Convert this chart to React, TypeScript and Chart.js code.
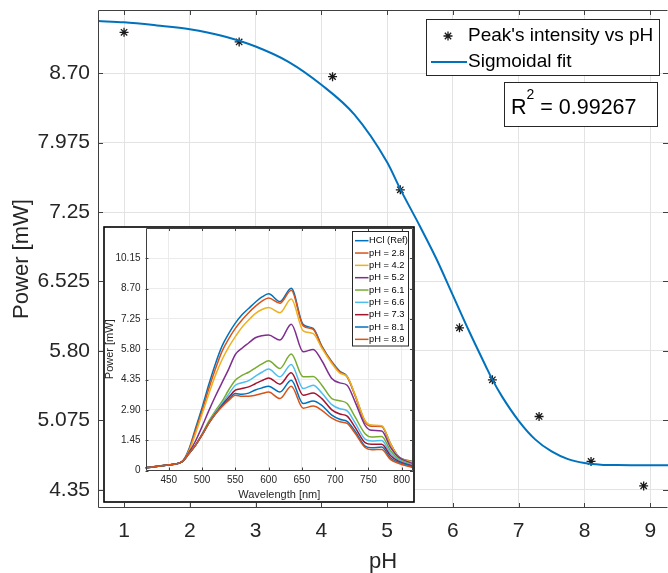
import React, { useEffect, useRef } from "react";
import { Chart, registerables } from "chart.js";
Chart.register(...registerables);

const FONT = "'Liberation Sans', Arial, Helvetica, sans-serif";

// ---- main chart data ----
const peakPH = [1, 2.75, 4.17, 5.2, 6.1, 6.6, 7.31, 8.1, 8.9];
const peakPower = [9.128, 9.027, 8.665, 7.483, 6.041, 5.498, 5.115, 4.645, 4.39];
const fitPH = [0.6, 1, 1.5, 2, 2.5, 3, 3.5, 4, 4.5, 5, 5.2, 5.5, 5.75, 6, 6.25, 6.5, 6.6, 6.75, 7, 7.25, 7.5, 7.75, 8, 8.25, 8.5, 9, 9.3];
const fitPower = [9.246, 9.233, 9.2, 9.16, 9.09, 8.98, 8.82, 8.58, 8.27, 7.77, 7.49, 7.1, 6.76, 6.38, 6.0, 5.64, 5.5, 5.32, 5.07, 4.876, 4.75, 4.67, 4.63, 4.612, 4.607, 4.605, 4.605];
const mainXTicks = [1, 2, 3, 4, 5, 6, 7, 8, 9];
const mainYTicks = [4.35, 5.075, 5.8, 6.525, 7.25, 7.975, 8.7];
const mainYTickLabels = ["4.35", "5.075", "5.80", "6.525", "7.25", "7.975", "8.70"];
const legendLabels = ["Peak's intensity vs pH", "Sigmoidal fit"];
const r2Value = "0.99267";

// ---- inset data ----
const wavelengths = [415, 450, 470, 480, 490, 500, 510, 520, 530, 540, 550, 560, 570, 580, 590, 600, 617, 634, 652, 667, 680, 695, 707, 718, 730, 745, 755, 770, 783, 795, 817];
const sHCl = [0.13, 0.27, 0.42, 1.0, 2.0, 3.0, 4.1, 5.1, 5.95, 6.55, 7.05, 7.45, 7.75, 8.05, 8.3, 8.45, 8.08, 8.72, 6.98, 6.8, 5.95, 5.2, 4.75, 4.5, 3.6, 2.35, 2.15, 2.12, 1.3, 0.68, 0.42];
const s28 = [0.13, 0.27, 0.42, 0.95, 1.9, 2.85, 3.9, 4.85, 5.7, 6.3, 6.8, 7.2, 7.55, 7.85, 8.1, 8.25, 8.0, 8.62, 6.92, 6.75, 5.92, 5.18, 4.72, 4.48, 3.58, 2.32, 2.12, 2.1, 1.28, 0.66, 0.4];
const s42 = [0.13, 0.27, 0.42, 0.9, 1.75, 2.7, 3.65, 4.55, 5.3, 5.9, 6.4, 6.85, 7.2, 7.5, 7.7, 7.8, 7.55, 8.2, 6.68, 6.55, 5.85, 5.12, 4.66, 4.5, 3.62, 2.38, 2.17, 2.14, 1.3, 0.66, 0.4];
const s52 = [0.13, 0.27, 0.42, 0.85, 1.4, 2.1, 2.85, 3.55, 4.2, 4.85, 5.55, 5.85, 6.1, 6.35, 6.45, 6.48, 6.24, 7.0, 5.68, 5.79, 5.25, 4.4, 4.19, 4.08, 3.28, 2.16, 1.92, 1.89, 1.12, 0.64, 0.32];
const s61 = [0.13, 0.27, 0.42, 0.8, 1.2, 1.75, 2.35, 2.85, 3.3, 3.85, 4.32, 4.55, 4.7, 4.9, 5.1, 5.25, 4.88, 5.57, 4.48, 4.5, 4.08, 3.44, 3.34, 3.2, 2.56, 1.76, 1.6, 1.63, 0.96, 0.56, 0.27];
const s66 = [0.13, 0.27, 0.42, 0.8, 1.2, 1.72, 2.28, 2.78, 3.2, 3.65, 4.08, 4.2, 4.3, 4.5, 4.7, 4.85, 4.48, 5.07, 3.92, 4.08, 3.71, 3.15, 2.95, 2.85, 2.28, 1.5, 1.41, 1.44, 0.83, 0.51, 0.24];
const s73 = [0.13, 0.27, 0.42, 0.8, 1.2, 1.7, 2.25, 2.72, 3.12, 3.5, 3.84, 3.92, 4.0, 4.15, 4.3, 4.43, 4.13, 4.67, 3.6, 3.71, 3.44, 2.9, 2.7, 2.6, 2.06, 1.33, 1.25, 1.25, 0.72, 0.45, 0.21];
const s81 = [0.13, 0.27, 0.42, 0.8, 1.2, 1.7, 2.25, 2.7, 3.08, 3.4, 3.68, 3.65, 3.7, 3.85, 3.95, 4.03, 3.76, 4.32, 3.2, 3.33, 3.12, 2.65, 2.45, 2.35, 1.88, 1.17, 1.09, 1.12, 0.61, 0.4, 0.18];
const s89 = [0.13, 0.27, 0.42, 0.8, 1.2, 1.7, 2.25, 2.7, 3.05, 3.35, 3.6, 3.55, 3.55, 3.6, 3.68, 3.75, 3.44, 4.03, 2.98, 3.08, 2.88, 2.5, 2.33, 2.25, 1.78, 1.1, 0.99, 1.01, 0.53, 0.35, 0.13];
const insetSeries = [sHCl, s28, s42, s52, s61, s66, s73, s81, s89];
const insetLabels = ["HCl (Ref)", "pH = 2.8", "pH = 4.2", "pH = 5.2", "pH = 6.1", "pH = 6.6", "pH = 7.3", "pH = 8.1", "pH = 8.9"];
const insetColors = ["#0072BD", "#D95319", "#EDB120", "#7E2F8E", "#77AC30", "#4DBEEE", "#A2142F", "#0072BD", "#D95319"];
const insetXTicks = [450, 500, 550, 600, 650, 700, 750, 800];
const insetYTicks = [0, 1.45, 2.9, 4.35, 5.8, 7.25, 8.7, 10.15];
const insetYTickLabels = ["0", "1.45", "2.90", "4.35", "5.80", "7.25", "8.70", "10.15"];

const AXIS_COLOR = "#262626";

function zeroPad(s: any) {
  s.paddingTop = 0;
  s.paddingBottom = 0;
  s.paddingLeft = 0;
  s.paddingRight = 0;
}

function framePlugin(tickLen: number, drawRight: boolean, color: string) {
  return {
    id: "frame",
    afterDatasetsDraw(chart: any) {
      const { ctx, chartArea: a, scales } = chart;
      const x = scales.x, y = scales.y;
      ctx.save();
      ctx.strokeStyle = color;
      ctx.lineWidth = 1;
      ctx.beginPath();
      for (const t of x.ticks) {
        const px = Math.round(x.getPixelForValue(t.value)) + 0.5;
        ctx.moveTo(px, a.bottom); ctx.lineTo(px, a.bottom - tickLen);
        ctx.moveTo(px, a.top); ctx.lineTo(px, a.top + tickLen);
      }
      for (const t of y.ticks) {
        const py = Math.round(y.getPixelForValue(t.value)) + 0.5;
        ctx.moveTo(a.left, py); ctx.lineTo(a.left + tickLen, py);
        ctx.moveTo(a.right, py); ctx.lineTo(a.right - tickLen, py);
      }
      const l = Math.round(a.left) + 0.5, r = Math.round(a.right) - 0.5;
      const t = Math.round(a.top) + 0.5, b = Math.round(a.bottom) - 0.5;
      ctx.moveTo(l, t); ctx.lineTo(l, b); ctx.lineTo(r, b);
      ctx.moveTo(l, t); ctx.lineTo(r, t);
      if (drawRight) { ctx.moveTo(r, t); ctx.lineTo(r, b); }
      ctx.stroke();
      ctx.restore();
    },
  };
}

const whiteBg = {
  id: "whiteBg",
  beforeDraw(chart: any) {
    const { ctx, width, height } = chart;
    ctx.save();
    ctx.fillStyle = "#ffffff";
    ctx.fillRect(0, 0, width, height);
    ctx.restore();
  },
};

function drawStar(ctx: CanvasRenderingContext2D, cx: number, cy: number, r: number) {
  ctx.beginPath();
  ctx.moveTo(cx - r, cy); ctx.lineTo(cx + r, cy);
  ctx.moveTo(cx, cy - r); ctx.lineTo(cx, cy + r);
  const d = r * Math.SQRT1_2;
  ctx.moveTo(cx - d, cy - d); ctx.lineTo(cx + d, cy + d);
  ctx.moveTo(cx - d, cy + d); ctx.lineTo(cx + d, cy - d);
  ctx.stroke();
}

const mainLegendPlugin = {
  id: "mainLegend",
  afterDraw(chart: any) {
    const ctx: CanvasRenderingContext2D = chart.ctx;
    ctx.save();
    ctx.fillStyle = "#fff";
    ctx.fillRect(426.5, 19.5, 233, 56);
    ctx.strokeStyle = AXIS_COLOR;
    ctx.lineWidth = 1;
    ctx.strokeRect(426.5, 19.5, 233, 56);
    ctx.strokeStyle = "#1a1a1a";
    ctx.lineWidth = 1.3;
    drawStar(ctx, 448, 36, 4.5);
    ctx.strokeStyle = "#0072BD";
    ctx.lineWidth = 2;
    ctx.beginPath();
    ctx.moveTo(431, 62); ctx.lineTo(467, 62);
    ctx.stroke();
    ctx.fillStyle = "#000";
    ctx.font = `19px ${FONT}`;
    ctx.textBaseline = "middle";
    ctx.textAlign = "left";
    ctx.fillText(legendLabels[0], 468, 36);
    ctx.fillText(legendLabels[1], 468, 62);
    ctx.fillStyle = "#fff";
    ctx.fillRect(504.5, 82.5, 153, 44);
    ctx.strokeStyle = AXIS_COLOR;
    ctx.lineWidth = 1;
    ctx.strokeRect(504.5, 82.5, 153, 44);
    ctx.fillStyle = "#000";
    ctx.textBaseline = "alphabetic";
    ctx.font = `21.5px ${FONT}`;
    let xx = 511;
    ctx.fillText("R", xx, 113.5);
    xx += ctx.measureText("R").width;
    ctx.font = `14px ${FONT}`;
    ctx.fillText("2", xx, 99);
    xx += ctx.measureText("2").width;
    ctx.font = `21.5px ${FONT}`;
    ctx.fillText(" = " + r2Value, xx, 113.5);
    ctx.restore();
  },
};

const insetDecor = {
  id: "insetDecor",
  afterDraw(chart: any) {
    const ctx: CanvasRenderingContext2D = chart.ctx;
    ctx.save();
    const bx = 249.5, by = 5.5, bw = 56, bh = 114.5;
    ctx.fillStyle = "#fff";
    ctx.fillRect(bx, by, bw, bh);
    ctx.strokeStyle = AXIS_COLOR;
    ctx.lineWidth = 1;
    ctx.strokeRect(bx, by, bw, bh);
    ctx.font = `9.3px ${FONT}`;
    ctx.textBaseline = "middle";
    ctx.textAlign = "left";
    for (let i = 0; i < insetLabels.length; i++) {
      const yy = 14.7 + i * 12.33;
      ctx.strokeStyle = insetColors[i];
      ctx.lineWidth = 1.5;
      ctx.beginPath();
      ctx.moveTo(252, yy); ctx.lineTo(265.5, yy);
      ctx.stroke();
      ctx.fillStyle = "#000";
      ctx.fillText(insetLabels[i], 266, yy);
    }
    ctx.strokeStyle = "#000";
    ctx.lineWidth = 1.6;
    ctx.strokeRect(1, 1, chart.width - 2, chart.height - 2);
    ctx.restore();
  },
};

export default function App() {
  const mainRef = useRef<HTMLCanvasElement>(null);
  const insetRef = useRef<HTMLCanvasElement>(null);

  useEffect(() => {
    const main = new Chart(mainRef.current as HTMLCanvasElement, {
      type: "scatter",
      data: {
        datasets: [
          {
            label: legendLabels[1],
            data: fitPH.map((x, i) => ({ x, y: fitPower[i] })),
            showLine: true,
            borderColor: "#0072BD",
            borderWidth: 2,
            pointRadius: 0,
            cubicInterpolationMode: "monotone",
          } as any,
          {
            label: legendLabels[0],
            data: peakPH.map((x, i) => ({ x, y: peakPower[i] })),
            pointStyle: "star",
            pointRadius: 4.5,
            borderColor: "#1a1a1a",
            backgroundColor: "#1a1a1a",
            pointBorderWidth: 1.3,
          } as any,
        ],
      },
      options: {
        responsive: false,
        animation: false,
        devicePixelRatio: 1,
        layout: { autoPadding: false, padding: { top: 10, right: 0, left: 0, bottom: 0 } },
        plugins: { legend: { display: false }, tooltip: { enabled: false } },
        scales: {
          x: {
            type: "linear",
            min: 0.604,
            max: 9.27,
            afterBuildTicks: (s: any) => { s.ticks = mainXTicks.map((v) => ({ value: v })); },
            afterFit: (s: any) => { s.height = 65; zeroPad(s); },
            grid: { color: "#e3e3e3", drawTicks: false, lineWidth: 1 },
            border: { display: false },
            ticks: {
              font: { family: FONT, size: 21 },
              color: AXIS_COLOR,
              padding: 11,
              maxRotation: 0,
              callback: (v: any) => String(v),
            },
            title: {
              display: true,
              text: "pH",
              color: AXIS_COLOR,
              font: { family: FONT, size: 22, lineHeight: 1 },
              padding: { top: 0, bottom: 0.5 },
            },
          },
          y: {
            type: "linear",
            min: 4.159,
            max: 9.361,
            afterBuildTicks: (s: any) => { s.ticks = mainYTicks.map((v) => ({ value: v })); },
            afterFit: (s: any) => { s.width = 98; zeroPad(s); },
            grid: { color: "#e3e3e3", drawTicks: false, lineWidth: 1 },
            border: { display: false },
            ticks: {
              font: { family: FONT, size: 21 },
              color: AXIS_COLOR,
              padding: 8,
              callback: (v: any) => {
                const i = mainYTicks.findIndex((t) => Math.abs(t - v) < 1e-6);
                return i >= 0 ? mainYTickLabels[i] : "";
              },
            },
            title: {
              display: true,
              text: "Power [mW]",
              color: AXIS_COLOR,
              font: { family: FONT, size: 22, lineHeight: 1 },
              padding: { top: 10.5, bottom: 0 },
            },
          },
        },
      } as any,
      plugins: [whiteBg, framePlugin(5, false, "#404040"), mainLegendPlugin],
    });

    const inset = new Chart(insetRef.current as HTMLCanvasElement, {
      type: "scatter",
      data: {
        datasets: insetSeries.map((s, k) => ({
          label: insetLabels[k],
          data: wavelengths.map((x, i) => ({ x, y: s[i] })),
          showLine: true,
          borderColor: insetColors[k],
          borderWidth: 1.5,
          pointRadius: 0,
          cubicInterpolationMode: "monotone",
          order: insetSeries.length - k,
        })) as any,
      },
      options: {
        responsive: false,
        animation: false,
        devicePixelRatio: 1,
        layout: { autoPadding: false, padding: { top: 2, right: 2, left: 0, bottom: 0 } },
        plugins: { legend: { display: false }, tooltip: { enabled: false } },
        scales: {
          x: {
            type: "linear",
            min: 415,
            max: 817,
            afterBuildTicks: (s: any) => { s.ticks = insetXTicks.map((v) => ({ value: v })); },
            afterFit: (s: any) => { s.height = 32.5; zeroPad(s); },
            grid: { color: "#ebebeb", drawTicks: false, lineWidth: 1 },
            border: { display: false },
            ticks: {
              font: { family: FONT, size: 10 },
              color: AXIS_COLOR,
              padding: 4,
              maxRotation: 0,
              callback: (v: any) => String(v),
            },
            title: {
              display: true,
              text: "Wavelength [nm]",
              color: AXIS_COLOR,
              font: { family: FONT, size: 11, lineHeight: 1 },
              padding: { top: 0, bottom: 2.5 },
            },
          },
          y: {
            type: "linear",
            min: 0,
            max: 11.6,
            afterBuildTicks: (s: any) => { s.ticks = insetYTicks.map((v) => ({ value: v })); },
            afterFit: (s: any) => { s.width = 42.5; zeroPad(s); },
            grid: { color: "#ebebeb", drawTicks: false, lineWidth: 1 },
            border: { display: false },
            ticks: {
              font: { family: FONT, size: 10 },
              color: AXIS_COLOR,
              padding: 5,
              callback: (v: any) => {
                const i = insetYTicks.findIndex((t) => Math.abs(t - v) < 1e-6);
                return i >= 0 ? insetYTickLabels[i] : "";
              },
            },
            title: {
              display: true,
              text: "Power [mW]",
              color: AXIS_COLOR,
              font: { family: FONT, size: 11, lineHeight: 1 },
              padding: { top: 1, bottom: 0 },
            },
          },
        },
      } as any,
      plugins: [whiteBg, framePlugin(3, true, "#404040"), insetDecor],
    });

    return () => {
      main.destroy();
      inset.destroy();
    };
  }, []);

  return (
    <div style={{ position: "fixed", left: 0, top: 0, width: 668, height: 573, background: "#fff", overflow: "hidden" }}>
      <canvas ref={mainRef} width={668} height={573} style={{ position: "absolute", left: 0, top: 0 }} />
      <canvas ref={insetRef} width={312} height={277} style={{ position: "absolute", left: 103, top: 226 }} />
    </div>
  );
}
